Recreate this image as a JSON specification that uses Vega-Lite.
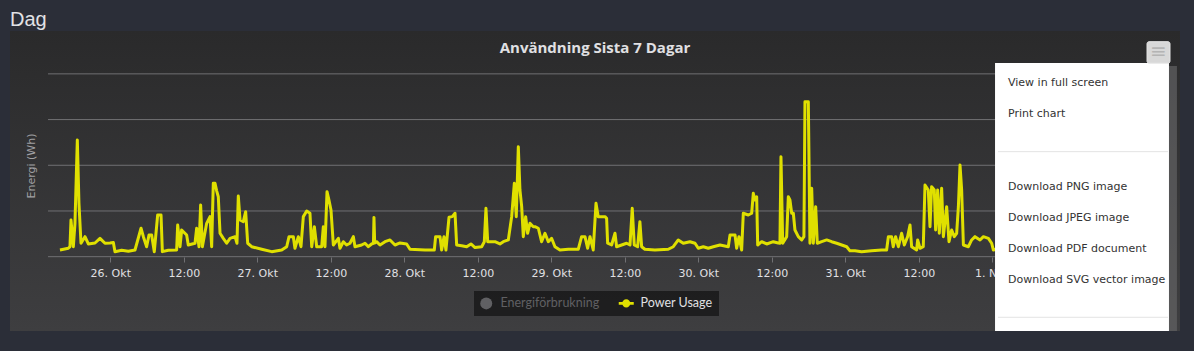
{
  "$schema": "https://vega.github.io/schema/vega-lite/v6.json",
  "width": 1170,
  "height": 300,
  "autosize": {"type": "none"},
  "padding": {"left": 10, "top": 31, "right": 14, "bottom": 20},
  "background": "#2b2e38",
  "view": {
    "stroke": null,
    "fill": {"gradient": "linear", "x1": 0, "y1": 0, "x2": 0, "y2": 1, "stops": [{"offset": 0, "color": "#2a2a2b"}, {"offset": 1, "color": "#3e3e40"}]}
  },
  "title": {"text": "Dag", "anchor": "start", "frame": "group", "font": "Liberation Sans", "fontSize": 20, "fontWeight": "normal", "color": "#e2e2e6", "offset": -15, "baseline": "alphabetic"},
  "datasets": {
    "grid": [{"g": 0}, {"g": 500}, {"g": 1000}, {"g": 1500}, {"g": 2000}],
    "power": [
      {"t": "2018-10-25T15:47Z", "v": 73}, {"t": "2018-10-25T17:09Z", "v": 92}, {"t": "2018-10-25T17:25Z", "v": 110}, {"t": "2018-10-25T17:35Z", "v": 401},
      {"t": "2018-10-25T17:58Z", "v": 109}, {"t": "2018-10-25T18:14Z", "v": 365}, {"t": "2018-10-25T18:37Z", "v": 1277}, {"t": "2018-10-25T18:53Z", "v": 584},
      {"t": "2018-10-25T19:13Z", "v": 147}, {"t": "2018-10-25T19:52Z", "v": 219}, {"t": "2018-10-25T20:25Z", "v": 139}, {"t": "2018-10-25T21:30Z", "v": 150},
      {"t": "2018-10-25T22:19Z", "v": 201}, {"t": "2018-10-25T23:08Z", "v": 147}, {"t": "2018-10-25T23:57Z", "v": 150},
      {"t": "2018-10-26T00:30Z", "v": 155}, {"t": "2018-10-26T00:46Z", "v": 55}, {"t": "2018-10-26T01:51Z", "v": 70}, {"t": "2018-10-26T02:57Z", "v": 60},
      {"t": "2018-10-26T04:02Z", "v": 73}, {"t": "2018-10-26T05:01Z", "v": 311}, {"t": "2018-10-26T05:24Z", "v": 219}, {"t": "2018-10-26T05:56Z", "v": 109},
      {"t": "2018-10-26T06:19Z", "v": 237}, {"t": "2018-10-26T06:45Z", "v": 237}, {"t": "2018-10-26T07:11Z", "v": 55}, {"t": "2018-10-26T07:44Z", "v": 456},
      {"t": "2018-10-26T08:17Z", "v": 456}, {"t": "2018-10-26T08:30Z", "v": 55}, {"t": "2018-10-26T09:28Z", "v": 70}, {"t": "2018-10-26T10:50Z", "v": 73},
      {"t": "2018-10-26T11:00Z", "v": 347}, {"t": "2018-10-26T11:23Z", "v": 109}, {"t": "2018-10-26T11:39Z", "v": 292}, {"t": "2018-10-26T12:28Z", "v": 237},
      {"t": "2018-10-26T12:44Z", "v": 128}, {"t": "2018-10-26T13:50Z", "v": 147}, {"t": "2018-10-26T14:06Z", "v": 311}, {"t": "2018-10-26T14:29Z", "v": 109},
      {"t": "2018-10-26T14:45Z", "v": 566}, {"t": "2018-10-26T15:02Z", "v": 109}, {"t": "2018-10-26T15:44Z", "v": 365}, {"t": "2018-10-26T16:17Z", "v": 438},
      {"t": "2018-10-26T16:33Z", "v": 109}, {"t": "2018-10-26T16:49Z", "v": 803}, {"t": "2018-10-26T17:06Z", "v": 803}, {"t": "2018-10-26T17:22Z", "v": 720},
      {"t": "2018-10-26T17:38Z", "v": 656}, {"t": "2018-10-26T17:55Z", "v": 256}, {"t": "2018-10-26T18:27Z", "v": 201}, {"t": "2018-10-26T19:00Z", "v": 147},
      {"t": "2018-10-26T19:33Z", "v": 201}, {"t": "2018-10-26T20:22Z", "v": 219}, {"t": "2018-10-26T20:41Z", "v": 147}, {"t": "2018-10-26T20:54Z", "v": 664},
      {"t": "2018-10-26T21:11Z", "v": 401}, {"t": "2018-10-26T21:43Z", "v": 383}, {"t": "2018-10-26T22:06Z", "v": 492}, {"t": "2018-10-26T22:26Z", "v": 147},
      {"t": "2018-10-26T23:05Z", "v": 109},
      {"t": "2018-10-27T00:43Z", "v": 81}, {"t": "2018-10-27T02:21Z", "v": 55}, {"t": "2018-10-27T03:59Z", "v": 73}, {"t": "2018-10-27T04:48Z", "v": 109},
      {"t": "2018-10-27T05:11Z", "v": 219}, {"t": "2018-10-27T05:53Z", "v": 219}, {"t": "2018-10-27T06:09Z", "v": 92}, {"t": "2018-10-27T06:42Z", "v": 219},
      {"t": "2018-10-27T07:08Z", "v": 109}, {"t": "2018-10-27T07:31Z", "v": 438}, {"t": "2018-10-27T08:04Z", "v": 499}, {"t": "2018-10-27T08:36Z", "v": 475},
      {"t": "2018-10-27T08:53Z", "v": 109}, {"t": "2018-10-27T09:19Z", "v": 328}, {"t": "2018-10-27T09:42Z", "v": 109}, {"t": "2018-10-27T10:31Z", "v": 109},
      {"t": "2018-10-27T10:47Z", "v": 328}, {"t": "2018-10-27T11:03Z", "v": 109}, {"t": "2018-10-27T11:23Z", "v": 711}, {"t": "2018-10-27T11:42Z", "v": 620},
      {"t": "2018-10-27T12:02Z", "v": 511}, {"t": "2018-10-27T12:25Z", "v": 128}, {"t": "2018-10-27T13:14Z", "v": 201}, {"t": "2018-10-27T13:30Z", "v": 92},
      {"t": "2018-10-27T14:03Z", "v": 164}, {"t": "2018-10-27T14:35Z", "v": 128}, {"t": "2018-10-27T15:08Z", "v": 147}, {"t": "2018-10-27T15:41Z", "v": 219},
      {"t": "2018-10-27T15:57Z", "v": 109}, {"t": "2018-10-27T17:02Z", "v": 128}, {"t": "2018-10-27T17:35Z", "v": 147}, {"t": "2018-10-27T18:08Z", "v": 109},
      {"t": "2018-10-27T18:40Z", "v": 139}, {"t": "2018-10-27T18:58Z", "v": 147}, {"t": "2018-10-27T19:03Z", "v": 430}, {"t": "2018-10-27T19:10Z", "v": 150},
      {"t": "2018-10-27T19:29Z", "v": 164}, {"t": "2018-10-27T20:02Z", "v": 128}, {"t": "2018-10-27T20:51Z", "v": 164}, {"t": "2018-10-27T21:40Z", "v": 183},
      {"t": "2018-10-27T22:29Z", "v": 128}, {"t": "2018-10-27T23:18Z", "v": 150},
      {"t": "2018-10-28T00:23Z", "v": 139}, {"t": "2018-10-28T00:56Z", "v": 81}, {"t": "2018-10-28T03:23Z", "v": 73}, {"t": "2018-10-28T04:54Z", "v": 73},
      {"t": "2018-10-28T05:07Z", "v": 219}, {"t": "2018-10-28T05:50Z", "v": 219}, {"t": "2018-10-28T06:06Z", "v": 73}, {"t": "2018-10-28T06:29Z", "v": 219},
      {"t": "2018-10-28T06:48Z", "v": 73}, {"t": "2018-10-28T07:18Z", "v": 431}, {"t": "2018-10-28T07:50Z", "v": 438}, {"t": "2018-10-28T08:17Z", "v": 475},
      {"t": "2018-10-28T08:33Z", "v": 128}, {"t": "2018-10-28T09:22Z", "v": 120}, {"t": "2018-10-28T10:11Z", "v": 109}, {"t": "2018-10-28T10:53Z", "v": 139},
      {"t": "2018-10-28T11:33Z", "v": 100}, {"t": "2018-10-28T12:38Z", "v": 109}, {"t": "2018-10-28T13:04Z", "v": 164}, {"t": "2018-10-28T13:20Z", "v": 529},
      {"t": "2018-10-28T13:37Z", "v": 164}, {"t": "2018-10-28T14:48Z", "v": 164}, {"t": "2018-10-28T15:37Z", "v": 139}, {"t": "2018-10-28T16:10Z", "v": 164},
      {"t": "2018-10-28T16:59Z", "v": 183}, {"t": "2018-10-28T17:32Z", "v": 438}, {"t": "2018-10-28T17:58Z", "v": 803}, {"t": "2018-10-28T18:17Z", "v": 438},
      {"t": "2018-10-28T18:37Z", "v": 1203}, {"t": "2018-10-28T18:53Z", "v": 730}, {"t": "2018-10-28T19:10Z", "v": 547}, {"t": "2018-10-28T19:26Z", "v": 219},
      {"t": "2018-10-28T19:49Z", "v": 438}, {"t": "2018-10-28T20:08Z", "v": 256}, {"t": "2018-10-28T20:31Z", "v": 365}, {"t": "2018-10-28T21:04Z", "v": 328},
      {"t": "2018-10-28T21:20Z", "v": 328}, {"t": "2018-10-28T21:53Z", "v": 311}, {"t": "2018-10-28T22:25Z", "v": 164}, {"t": "2018-10-28T22:58Z", "v": 256},
      {"t": "2018-10-28T23:31Z", "v": 164},
      {"t": "2018-10-29T00:03Z", "v": 201}, {"t": "2018-10-29T00:36Z", "v": 109}, {"t": "2018-10-29T01:25Z", "v": 73}, {"t": "2018-10-29T02:47Z", "v": 81},
      {"t": "2018-10-29T04:24Z", "v": 81}, {"t": "2018-10-29T04:57Z", "v": 219}, {"t": "2018-10-29T05:30Z", "v": 219}, {"t": "2018-10-29T05:56Z", "v": 92},
      {"t": "2018-10-29T06:19Z", "v": 219}, {"t": "2018-10-29T06:51Z", "v": 73}, {"t": "2018-10-29T07:18Z", "v": 584}, {"t": "2018-10-29T07:40Z", "v": 438},
      {"t": "2018-10-29T08:13Z", "v": 438}, {"t": "2018-10-29T08:46Z", "v": 438}, {"t": "2018-10-29T09:02Z", "v": 420}, {"t": "2018-10-29T09:12Z", "v": 147},
      {"t": "2018-10-29T09:51Z", "v": 128}, {"t": "2018-10-29T10:24Z", "v": 256}, {"t": "2018-10-29T10:40Z", "v": 109}, {"t": "2018-10-29T11:29Z", "v": 128},
      {"t": "2018-10-29T12:18Z", "v": 147}, {"t": "2018-10-29T12:51Z", "v": 128}, {"t": "2018-10-29T13:13Z", "v": 529}, {"t": "2018-10-29T13:33Z", "v": 128},
      {"t": "2018-10-29T14:06Z", "v": 109}, {"t": "2018-10-29T14:28Z", "v": 383}, {"t": "2018-10-29T14:45Z", "v": 109}, {"t": "2018-10-29T15:17Z", "v": 81},
      {"t": "2018-10-29T16:55Z", "v": 73}, {"t": "2018-10-29T19:06Z", "v": 81}, {"t": "2018-10-29T19:55Z", "v": 109}, {"t": "2018-10-29T20:44Z", "v": 183},
      {"t": "2018-10-29T21:33Z", "v": 147}, {"t": "2018-10-29T22:38Z", "v": 164}, {"t": "2018-10-29T23:28Z", "v": 147},
      {"t": "2018-10-30T00:00Z", "v": 92}, {"t": "2018-10-30T00:49Z", "v": 109}, {"t": "2018-10-30T01:38Z", "v": 92}, {"t": "2018-10-30T02:27Z", "v": 109},
      {"t": "2018-10-30T03:33Z", "v": 128}, {"t": "2018-10-30T04:54Z", "v": 109}, {"t": "2018-10-30T05:11Z", "v": 237}, {"t": "2018-10-30T06:00Z", "v": 237},
      {"t": "2018-10-30T06:16Z", "v": 92}, {"t": "2018-10-30T06:39Z", "v": 219}, {"t": "2018-10-30T07:05Z", "v": 73}, {"t": "2018-10-30T07:21Z", "v": 475},
      {"t": "2018-10-30T08:10Z", "v": 456}, {"t": "2018-10-30T08:43Z", "v": 475}, {"t": "2018-10-30T08:59Z", "v": 694}, {"t": "2018-10-30T09:15Z", "v": 620},
      {"t": "2018-10-30T09:32Z", "v": 656}, {"t": "2018-10-30T09:42Z", "v": 128}, {"t": "2018-10-30T10:21Z", "v": 164}, {"t": "2018-10-30T11:10Z", "v": 139},
      {"t": "2018-10-30T12:15Z", "v": 164}, {"t": "2018-10-30T13:04Z", "v": 150}, {"t": "2018-10-30T13:20Z", "v": 147}, {"t": "2018-10-30T13:30Z", "v": 1094},
      {"t": "2018-10-30T13:47Z", "v": 147}, {"t": "2018-10-30T14:26Z", "v": 219}, {"t": "2018-10-30T14:42Z", "v": 656}, {"t": "2018-10-30T14:58Z", "v": 620},
      {"t": "2018-10-30T15:15Z", "v": 475}, {"t": "2018-10-30T15:31Z", "v": 475}, {"t": "2018-10-30T15:47Z", "v": 292}, {"t": "2018-10-30T16:20Z", "v": 219},
      {"t": "2018-10-30T16:53Z", "v": 183}, {"t": "2018-10-30T17:15Z", "v": 219}, {"t": "2018-10-30T17:25Z", "v": 1696}, {"t": "2018-10-30T17:58Z", "v": 1696},
      {"t": "2018-10-30T18:14Z", "v": 147}, {"t": "2018-10-30T18:31Z", "v": 748}, {"t": "2018-10-30T18:47Z", "v": 147}, {"t": "2018-10-30T19:10Z", "v": 547},
      {"t": "2018-10-30T19:26Z", "v": 147}, {"t": "2018-10-30T20:09Z", "v": 164}, {"t": "2018-10-30T20:58Z", "v": 183}, {"t": "2018-10-30T21:47Z", "v": 164},
      {"t": "2018-10-30T22:36Z", "v": 147}, {"t": "2018-10-30T23:25Z", "v": 128},
      {"t": "2018-10-31T00:14Z", "v": 109}, {"t": "2018-10-31T00:46Z", "v": 64}, {"t": "2018-10-31T01:35Z", "v": 64}, {"t": "2018-10-31T02:40Z", "v": 55},
      {"t": "2018-10-31T04:18Z", "v": 64}, {"t": "2018-10-31T05:56Z", "v": 73}, {"t": "2018-10-31T06:45Z", "v": 73}, {"t": "2018-10-31T07:02Z", "v": 219},
      {"t": "2018-10-31T07:34Z", "v": 219}, {"t": "2018-10-31T07:50Z", "v": 109}, {"t": "2018-10-31T08:13Z", "v": 219}, {"t": "2018-10-31T08:40Z", "v": 109},
      {"t": "2018-10-31T09:12Z", "v": 256}, {"t": "2018-10-31T09:38Z", "v": 128}, {"t": "2018-10-31T10:11Z", "v": 219}, {"t": "2018-10-31T10:34Z", "v": 347},
      {"t": "2018-10-31T10:50Z", "v": 109}, {"t": "2018-10-31T11:39Z", "v": 73}, {"t": "2018-10-31T11:49Z", "v": 183}, {"t": "2018-10-31T12:12Z", "v": 92},
      {"t": "2018-10-31T12:44Z", "v": 109}, {"t": "2018-10-31T13:01Z", "v": 784}, {"t": "2018-10-31T13:33Z", "v": 730}, {"t": "2018-10-31T13:50Z", "v": 328},
      {"t": "2018-10-31T14:06Z", "v": 766}, {"t": "2018-10-31T14:32Z", "v": 730}, {"t": "2018-10-31T14:45Z", "v": 292}, {"t": "2018-10-31T15:05Z", "v": 730},
      {"t": "2018-10-31T15:21Z", "v": 256}, {"t": "2018-10-31T15:44Z", "v": 748}, {"t": "2018-10-31T16:01Z", "v": 219}, {"t": "2018-10-31T16:33Z", "v": 547},
      {"t": "2018-10-31T16:56Z", "v": 164}, {"t": "2018-10-31T17:22Z", "v": 292}, {"t": "2018-10-31T17:48Z", "v": 219}, {"t": "2018-10-31T18:11Z", "v": 256},
      {"t": "2018-10-31T18:28Z", "v": 547}, {"t": "2018-10-31T18:44Z", "v": 1003}, {"t": "2018-10-31T19:00Z", "v": 730}, {"t": "2018-10-31T19:17Z", "v": 128},
      {"t": "2018-10-31T20:06Z", "v": 109}, {"t": "2018-10-31T20:38Z", "v": 183}, {"t": "2018-10-31T21:11Z", "v": 219}, {"t": "2018-10-31T22:00Z", "v": 183},
      {"t": "2018-10-31T22:33Z", "v": 219}, {"t": "2018-10-31T23:22Z", "v": 201}, {"t": "2018-10-31T23:54Z", "v": 147},
      {"t": "2018-11-01T00:11Z", "v": 73}, {"t": "2018-11-01T01:00Z", "v": 90}
    ]
  },
  "layer": [
    {
      "data": {"name": "grid"},
      "mark": {"type": "rule", "color": "#707073", "strokeWidth": 1},
      "encoding": {
        "y": {"field": "g", "type": "quantitative", "axis": null},
        "x": {"datum": {"year": 2018, "month": 10, "date": 25, "hours": 13, "minutes": 50, "utc": true}, "type": "temporal"},
        "x2": {"datum": {"year": 2018, "month": 11, "date": 2, "hours": 4, "minutes": 41, "utc": true}}
      }
    },
    {
      "data": {"name": "power"},
      "mark": {"type": "line", "strokeWidth": 3, "interpolate": "linear", "strokeJoin": "round"},
      "encoding": {
        "x": {
          "field": "t", "type": "temporal",
          "scale": {"type": "utc", "nice": false, "domain": [
            {"year": 2018, "month": 10, "date": 25, "hours": 7, "minutes": 37, "seconds": 30, "utc": true},
            {"year": 2018, "month": 11, "date": 2, "hours": 6, "minutes": 39, "utc": true}
          ]},
          "axis": {
            "orient": "bottom", "offset": -74, "domain": false, "grid": false, "title": null,
            "ticks": true, "tickColor": "#707073", "tickSize": 5, "tickWidth": 1,
            "labelColor": "#E0E0E3", "labelFont": "DejaVu Sans", "labelFontSize": 11, "labelPadding": 5,
            "labelFlush": false, "labelOverlap": false,
            "values": [
              {"year": 2018, "month": 10, "date": 26, "hours": 0, "utc": true}, {"year": 2018, "month": 10, "date": 26, "hours": 12, "utc": true},
              {"year": 2018, "month": 10, "date": 27, "hours": 0, "utc": true}, {"year": 2018, "month": 10, "date": 27, "hours": 12, "utc": true},
              {"year": 2018, "month": 10, "date": 28, "hours": 0, "utc": true}, {"year": 2018, "month": 10, "date": 28, "hours": 12, "utc": true},
              {"year": 2018, "month": 10, "date": 29, "hours": 0, "utc": true}, {"year": 2018, "month": 10, "date": 29, "hours": 12, "utc": true},
              {"year": 2018, "month": 10, "date": 30, "hours": 0, "utc": true}, {"year": 2018, "month": 10, "date": 30, "hours": 12, "utc": true},
              {"year": 2018, "month": 10, "date": 31, "hours": 0, "utc": true}, {"year": 2018, "month": 10, "date": 31, "hours": 12, "utc": true},
              {"year": 2018, "month": 11, "date": 1, "hours": 0, "utc": true}
            ],
            "labelExpr": "utchours(datum.value) == 0 ? utcdate(datum.value) + '. ' + (utcmonth(datum.value) == 9 ? 'Okt' : 'Nov') : '12:00'"
          }
        },
        "y": {
          "field": "v", "type": "quantitative",
          "scale": {"domain": [-813, 2469], "nice": false, "zero": false},
          "axis": null
        },
        "color": {
          "datum": "Power Usage", "type": "nominal",
          "scale": {"domain": ["Energiförbrukning", "Power Usage"], "range": ["#606063", "#e0e000"]},
          "legend": {
            "orient": "none", "legendX": 464, "legendY": 260, "direction": "horizontal", "columns": 2,
            "title": null, "fillColor": "rgba(0,0,0,0.5)", "padding": 6, "symbolSize": 144,
            "labelFont": "Lato", "labelFontSize": 12.5, "labelOffset": 8, "columnPadding": 18,
            "encode": {
              "symbols": {"update": {
                "shape": {"signal": "datum.value === 'Power Usage' ? 'M-1.25,-0.22H1.25V0.22H-1.25Z M0.67,0A0.67,0.67,0,1,1,-0.67,0A0.67,0.67,0,1,1,0.67,0Z' : 'circle'"},
                "fill": {"signal": "datum.value === 'Power Usage' ? '#e0e000' : '#606063'"},
                "stroke": {"value": "transparent"},
                "strokeWidth": {"value": 0},
                "opacity": {"value": 1}
              }},
              "labels": {"update": {"fill": {"signal": "datum.value === 'Power Usage' ? '#E0E0E3' : '#606063'"}}}
            }
          }
        }
      }
    },
    {
      "data": {"values": [{}]},
      "mark": {"type": "text", "font": "DejaVu Sans", "fontSize": 11, "color": "#A0A0A3", "align": "center", "baseline": "middle", "angle": 270, "text": "Energi (Wh)"},
      "encoding": {
        "x": {"datum": {"year": 2018, "month": 10, "date": 25, "hours": 11, "minutes": 13, "utc": true}, "type": "temporal"},
        "y": {"datum": 992, "type": "quantitative", "axis": null}
      }
    },
    {
      "data": {"values": [{}]},
      "mark": {"type": "text", "font": "Open Sans", "fontSize": 15, "fontWeight": "bold", "color": "#E0E0E3", "align": "center", "baseline": "middle", "text": "Användning Sista 7 Dagar"},
      "encoding": {
        "x": {"datum": {"year": 2018, "month": 10, "date": 29, "hours": 7, "minutes": 8, "utc": true}, "type": "temporal"},
        "y": {"datum": 2283, "type": "quantitative", "axis": null}
      }
    },
    {
      "data": {"values": [{}]},
      "mark": {"type": "rect", "fill": "#626264", "opacity": 0.7},
      "encoding": {
        "x": {"datum": {"year": 2018, "month": 11, "date": 1, "hours": 1, "minutes": 0, "utc": true}, "type": "temporal"},
        "x2": {"datum": {"year": 2018, "month": 11, "date": 2, "hours": 6, "minutes": 9, "utc": true}},
        "y": {"datum": -813, "type": "quantitative", "axis": null},
        "y2": {"datum": 2086}
      }
    },
    {
      "data": {"values": [{}]},
      "mark": {"type": "rect", "fill": "#ffffff"},
      "encoding": {
        "x": {"datum": {"year": 2018, "month": 11, "date": 1, "hours": 0, "minutes": 27, "utc": true}, "type": "temporal"},
        "x2": {"datum": {"year": 2018, "month": 11, "date": 2, "hours": 4, "minutes": 51, "utc": true}},
        "y": {"datum": -813, "type": "quantitative", "axis": null},
        "y2": {"datum": 2119}
      }
    },
    {
      "data": {"values": [{}]},
      "mark": {"type": "rule", "color": "#e3e3e3", "strokeWidth": 1},
      "encoding": {
        "x": {"datum": {"year": 2018, "month": 11, "date": 1, "hours": 0, "minutes": 56, "utc": true}, "type": "temporal"},
        "x2": {"datum": {"year": 2018, "month": 11, "date": 2, "hours": 4, "minutes": 41, "utc": true}},
        "y": {"datum": 1149, "type": "quantitative", "axis": null}
      }
    },
    {
      "data": {"values": [{}]},
      "mark": {"type": "rule", "color": "#e3e3e3", "strokeWidth": 1},
      "encoding": {
        "x": {"datum": {"year": 2018, "month": 11, "date": 1, "hours": 0, "minutes": 56, "utc": true}, "type": "temporal"},
        "x2": {"datum": {"year": 2018, "month": 11, "date": 2, "hours": 4, "minutes": 41, "utc": true}},
        "y": {"datum": -663, "type": "quantitative", "axis": null}
      }
    },
    {
      "data": {"values": [{}]},
      "mark": {"type": "text", "font": "DejaVu Sans", "fontSize": 11, "color": "#333333", "align": "left", "baseline": "middle", "lineHeight": 31, "text": ["View in full screen", "Print chart"]},
      "encoding": {
        "x": {"datum": {"year": 2018, "month": 11, "date": 1, "hours": 2, "minutes": 34, "utc": true}, "type": "temporal"},
        "y": {"datum": 1900, "type": "quantitative", "axis": null}
      }
    },
    {
      "data": {"values": [{}]},
      "mark": {"type": "text", "font": "DejaVu Sans", "fontSize": 11, "color": "#333333", "align": "left", "baseline": "middle", "lineHeight": 31, "text": ["Download PNG image", "Download JPEG image", "Download PDF document", "Download SVG vector image"]},
      "encoding": {
        "x": {"datum": {"year": 2018, "month": 11, "date": 1, "hours": 2, "minutes": 34, "utc": true}, "type": "temporal"},
        "y": {"datum": 763, "type": "quantitative", "axis": null}
      }
    },
    {
      "data": {"values": [{}]},
      "mark": {"type": "rect", "fill": "#d8d8d8", "stroke": "#e8e8e8", "strokeWidth": 1, "cornerRadius": 2},
      "encoding": {
        "x": {"datum": {"year": 2018, "month": 11, "date": 2, "hours": 1, "minutes": 16, "utc": true}, "type": "temporal"},
        "x2": {"datum": {"year": 2018, "month": 11, "date": 2, "hours": 5, "minutes": 1, "utc": true}},
        "y": {"datum": 2116, "type": "quantitative", "axis": null},
        "y2": {"datum": 2352}
      }
    },
    {
      "data": {"values": [{}]},
      "mark": {"type": "text", "font": "DejaVu Sans", "fontSize": 20, "color": "#b4b4b4", "align": "center", "baseline": "middle", "text": "≡"},
      "encoding": {
        "x": {"datum": {"year": 2018, "month": 11, "date": 2, "hours": 3, "minutes": 8, "utc": true}, "type": "temporal"},
        "y": {"datum": 2234, "type": "quantitative", "axis": null}
      }
    }
  ]
}
